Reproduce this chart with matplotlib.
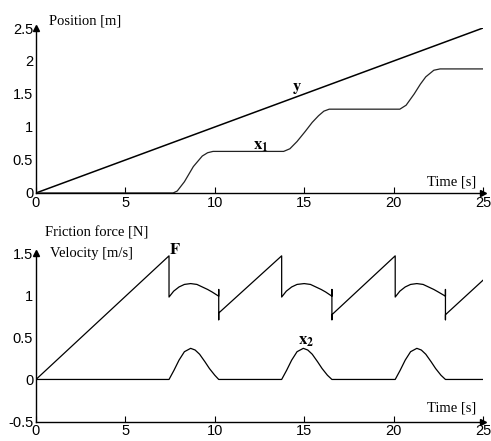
import matplotlib
matplotlib.use("Agg")
import matplotlib.pyplot as plt

plt.rcParams['mathtext.fontset'] = 'stix'

# Courbes
t_y = [0, 25]
y_pos = [0, 2.5]

t_x1 = [0, 7.67, 7.9, 8.3, 8.8, 9.3, 9.6, 9.9,
        13.85, 14.2, 14.6, 15.05, 15.45, 15.8, 16.1, 16.4,
        20.35, 20.7, 21.15, 21.5, 21.8, 22.25, 22.6, 25]
x1_pos = [0, 0, 0.03, 0.17, 0.40, 0.56, 0.61, 0.63,
          0.63, 0.67, 0.78, 0.93, 1.07, 1.17, 1.24, 1.27,
          1.27, 1.33, 1.50, 1.65, 1.76, 1.86, 1.88, 1.88]

t_x2 = [0, 7.44, 7.72, 8.0, 8.3, 8.65, 8.9, 9.15, 9.45, 9.7, 10.0, 10.22,
        13.74, 14.02, 14.3, 14.6, 14.95, 15.2, 15.45, 15.75, 16.0, 16.3, 16.55,
        20.09, 20.37, 20.65, 20.95, 21.3, 21.55, 21.8, 22.1, 22.35, 22.65, 22.9, 25]
x2_vel = [0, 0, 0.11, 0.23, 0.33, 0.37, 0.35, 0.30, 0.21, 0.13, 0.05, 0,
          0, 0.11, 0.23, 0.33, 0.37, 0.35, 0.30, 0.21, 0.13, 0.05, 0,
          0, 0.11, 0.23, 0.33, 0.37, 0.35, 0.30, 0.21, 0.13, 0.05, 0, 0]

t_F = [0, 7.44, 7.44, 7.7, 8.0, 8.3, 8.65, 9.0, 9.3, 9.6, 9.85, 10.22, 10.22, 10.22, 10.22,
       13.74, 13.74, 14.0, 14.3, 14.6, 15.0, 15.35, 15.65, 15.95, 16.2, 16.55, 16.55, 16.55, 16.55,
       20.09, 20.09, 20.35, 20.65, 20.95, 21.3, 21.65, 21.95, 22.25, 22.5, 22.9, 22.9, 22.9, 22.9,
       25]
F_val = [0, 1.47, 0.98, 1.05, 1.10, 1.13, 1.14, 1.13, 1.10, 1.07, 1.04, 0.99, 1.07, 0.71, 0.79,
         1.47, 0.98, 1.05, 1.10, 1.13, 1.14, 1.13, 1.10, 1.07, 1.04, 0.99, 1.07, 0.71, 0.77,
         1.47, 0.98, 1.05, 1.10, 1.13, 1.14, 1.13, 1.10, 1.07, 1.04, 0.99, 1.07, 0.71, 0.77,
         1.18]

xticks = [0, 5, 10, 15, 20, 25]
yticks_pos = [0, 0.5, 1, 1.5, 2, 2.5]
yticks_vel = [-0.5, 0, 0.5, 1, 1.5]

serif = ['Liberation Serif', 'DejaVu Serif']
sans = ['Liberation Sans Narrow', 'Liberation Sans', 'DejaVu Sans']

fig = plt.figure(figsize=(4.91, 4.41), dpi=100)
ax1 = fig.add_axes([0.0733, 0.5624, 0.9104, 0.3741])
ax2 = fig.add_axes([0.0733, 0.0442, 0.9104, 0.3814])


def style_axes(ax, ylim, yticks):
    ax.set_xlim(0, 25)
    ax.set_ylim(*ylim)
    ax.set_xticks(xticks)
    ax.set_yticks(yticks)
    ax.set_xticklabels([str(v) for v in xticks], family=sans, fontsize=10.5)
    ax.set_yticklabels([('%g' % v) for v in yticks], family=sans, fontsize=10.5)
    ax.spines['top'].set_visible(False)
    ax.spines['right'].set_visible(False)
    ax.spines['left'].set_linewidth(1.0)
    ax.spines['bottom'].set_linewidth(1.0)
    ax.tick_params(axis='x', direction='in', length=4, width=0.8, pad=2)
    ax.tick_params(axis='y', length=0, pad=2)
    ax.patch.set_alpha(0)
    # fleches au bout des axes
    ax.plot(1, 0, '>k', markersize=4, transform=ax.transAxes, clip_on=False)
    ax.plot(0, 1, '^k', markersize=4, transform=ax.transAxes, clip_on=False)


# Position
style_axes(ax1, (0, 2.5), yticks_pos)
ax1.plot(t_y, y_pos, color='black', lw=1.1)
ax1.plot(t_x1, x1_pos, color='#222222', lw=0.9)
ax1.text(14.6, 1.61, r'$\mathbf{y}$', fontsize=12, ha='center', va='center')
ax1.text(12.6, 0.72, r'$\mathbf{x_1}$', fontsize=12, ha='center', va='center')
ax1.text(0.72, 2.6, 'Position [m]', family=serif, fontsize=10.5,
         ha='left', va='center', clip_on=False)
ax1.text(24.6, 0.17, 'Time [s]', family=serif, fontsize=10.5,
         ha='right', va='center')

# Force de frottement et vitesse
style_axes(ax2, (-0.5, 1.5), yticks_vel)
ax2.plot(t_F, F_val, color='black', lw=0.9)
ax2.plot(t_x2, x2_vel, color='black', lw=0.9)
ax2.text(7.76, 1.55, r'$\mathbf{F}$', fontsize=12, ha='center', va='center', clip_on=False)
ax2.text(15.1, 0.47, r'$\mathbf{x_2}$', fontsize=12, ha='center', va='center')
ax2.text(0.5, 1.74, 'Friction force [N]', family=serif, fontsize=10.5,
         ha='left', va='center', clip_on=False)
ax2.text(0.78, 1.5, 'Velocity [m/s]', family=serif, fontsize=10.5,
         ha='left', va='center', clip_on=False)
ax2.text(24.6, -0.34, 'Time [s]', family=serif, fontsize=10.5,
         ha='right', va='center')

plt.savefig('out.png', dpi=100)
